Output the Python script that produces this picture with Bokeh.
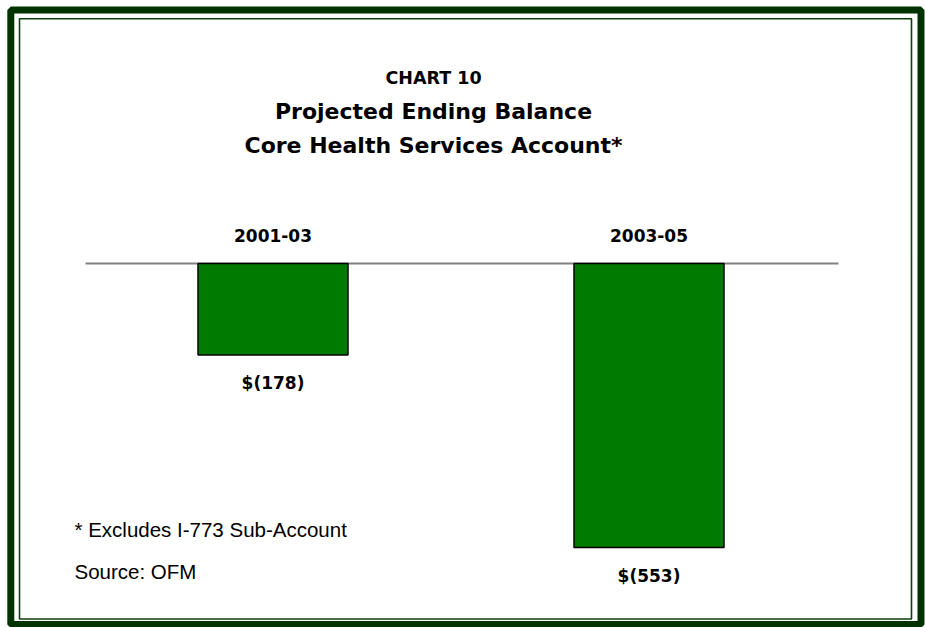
from bokeh.plotting import figure
from bokeh.models import Range1d
from bokeh.core.properties import value
from bokeh.embed import file_html
from bokeh.resources import INLINE

# ---- data ----
periods = ["2001-03", "2003-05"]
balances = [-178, -553]
value_labels = ["$(178)", "$(553)"]
title_lines = ["CHART 10", "Projected Ending Balance", "Core Health Services Account*"]
notes = ["* Excludes I-773 Sub-Account", "Source: OFM"]

# ---- layout (pixel geometry of the page) ----
W, H = 925, 627
OFF = 0
BAR0_PX = 272.5 - OFF      # canvas x of first bar centre
BAR_STEP = 376.0           # px between bar centres
BAR_W_PX = 150.0
BASE_PX = 263 - OFF        # canvas y of zero line
PX_PER_UNIT = 0.5136

x_start = -BAR0_PX / BAR_STEP
x_end = (W - BAR0_PX) / BAR_STEP
y_end = BASE_PX / PX_PER_UNIT
y_start = -(H - BASE_PX) / PX_PER_UNIT


def fx(px):
    return x_start + (px - OFF) / BAR_STEP


def fy(py):
    return y_end - (py - OFF) / PX_PER_UNIT


FONT = value("DejaVu Sans")
NOTE_FONT = value("Liberation Sans")
DARK_GREEN = "#003300"
BAR_GREEN = "#007a00"

p = figure(width=W, height=H, output_backend="svg", toolbar_location=None,
           x_range=Range1d(x_start, x_end), y_range=Range1d(y_start, y_end),
           min_border=0, min_border_left=0, min_border_right=0,
           min_border_top=0, min_border_bottom=0)
p.xaxis.visible = False
p.yaxis.visible = False
p.grid.visible = False
p.outline_line_color = None
p.background_fill_color = "white"
p.border_fill_color = "white"

# frame decorations
p.quad(left=[fx(10.3)], right=[fx(920.5)], top=[fy(9.5)], bottom=[fy(624)],
       fill_color=None, line_color=DARK_GREEN, line_width=7)
p.quad(left=[fx(19)], right=[fx(911)], top=[fy(18.3)], bottom=[fy(618.5)],
       fill_color=None, line_color="#0d3f0d", line_width=1.6)

# zero line
p.segment(x0=[fx(85)], x1=[fx(838)], y0=[0], y1=[0], line_color="#808080", line_width=2)

# bars
idx = list(range(len(periods)))
p.vbar(x=idx, top=0, bottom=balances, width=BAR_W_PX / BAR_STEP,
       fill_color=BAR_GREEN, line_color="black", line_width=1.5)

# value labels under bars
p.text(x=idx, y=[b - 28.5 / PX_PER_UNIT for b in balances], text=value_labels,
       text_font=FONT, text_font_style="bold", text_font_size="17px",
       text_align="center", text_baseline="alphabetic", text_color="black")

# category labels
p.text(x=idx, y=[fy(235)] * len(periods), text=periods,
       text_font=FONT, text_font_style="bold", text_font_size="17px",
       text_align="center", text_baseline="alphabetic", text_color="black")

# title
title_sizes = ["17.5px", "22px", "22px"]
title_base = [77, 110.7, 145]
for t, s, b in zip(title_lines, title_sizes, title_base):
    p.text(x=[fx(433)], y=[fy(b)], text=[t], text_font=FONT, text_font_style="bold",
           text_font_size=s, text_align="center", text_baseline="alphabetic",
           text_color="black")

# notes
note_base = [528.5, 571]
for t, b in zip(notes, note_base):
    p.text(x=[fx(74)], y=[fy(b)], text=[t], text_font=NOTE_FONT, text_font_size="20.5px",
           text_align="left", text_baseline="alphabetic", text_color="black")

open("out.html", "w").write(file_html(p, INLINE))
